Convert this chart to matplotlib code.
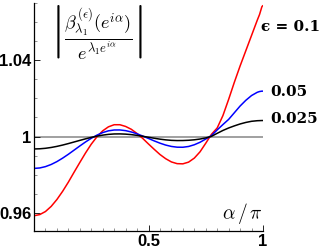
import numpy as np
import matplotlib
matplotlib.use("Agg")
import matplotlib.pyplot as plt
from matplotlib.ticker import MultipleLocator, FixedLocator

plt.rcParams['mathtext.fontset'] = 'cm'

alpha = [0.0, 0.025, 0.05, 0.075, 0.10, 0.125, 0.15, 0.175, 0.20, 0.225, 0.25, 0.275,
         0.30, 0.325, 0.35, 0.375, 0.40, 0.425, 0.45, 0.475, 0.50, 0.525, 0.55, 0.575,
         0.60, 0.625, 0.65, 0.675, 0.70, 0.725, 0.75, 0.775, 0.80, 0.825, 0.85, 0.875,
         0.90, 0.925, 0.95, 0.975, 0.985, 0.995, 1.0]

eps_01 = [0.9585, 0.9591, 0.9607, 0.9634, 0.9670, 0.9713, 0.9761, 0.9813, 0.9864, 0.9914,
          0.9960, 0.9999, 1.0030, 1.0051, 1.0062, 1.0062, 1.0053, 1.0038, 1.0016, 0.9990,
          0.9961, 0.9933, 0.9906, 0.9884, 0.9867, 0.9858, 0.9857, 0.9866, 0.9887, 0.9920,
          0.9965, 1.0012, 1.0045, 1.0110, 1.0195, 1.0285, 1.0370, 1.0450, 1.0530, 1.0610,
          1.0640, 1.0680, 1.0688]

eps_005 = [0.9833, 0.98354, 0.98424, 0.98537, 0.98687, 0.98869, 0.99071, 0.99288, 0.99506,
           0.99716, 0.99909, 1.00075, 1.00208, 1.00300, 1.00344, 1.00346, 1.00310, 1.00240,
           1.00143, 1.00026, 0.99899, 0.99772, 0.99654, 0.99554, 0.99482, 0.99443, 0.99440,
           0.99480, 0.99570, 0.99700, 0.99870, 1.00050, 1.00350, 1.00630, 1.00900, 1.01250,
           1.01600, 1.01900, 1.02150, 1.02320, 1.02360, 1.02380, 1.02380]

eps_0025 = [0.9935, 0.99359, 0.99385, 0.99428, 0.99485, 0.99554, 0.99632, 0.99715, 0.99799,
            0.99880, 0.99956, 1.00022, 1.00075, 1.00114, 1.00136, 1.00139, 1.00127, 1.00101,
            1.00062, 1.00015, 0.99963, 0.99911, 0.99864, 0.99827, 0.99801, 0.99790, 0.99792,
            0.99805, 0.99830, 0.99870, 0.99930, 1.00010, 1.00170, 1.00320, 1.00450, 1.00560,
            1.00660, 1.00740, 1.00800, 1.00830, 1.00835, 1.00840, 1.00840]

series = [(eps_01, 'red', '\u03f5 = 0.1', (-2, -22)),
          (eps_005, 'blue', '0.05', (7, -1)),
          (eps_0025, 'black', '0.025', (7, 2))]

ytick_major = [0.96, 1.0, 1.04]
ytick_labels = ['0.96', '1', '1.04']
xtick_major = [0.5, 1.0]
xtick_labels = ['0.5', '1']

fig = plt.figure(figsize=(3.27, 2.49), dpi=100)
ax = fig.add_axes([34/327, 1-231/249, (263-34)/327, (231-3)/249])

ax.axhline(1.0, color='#999999', lw=1.3, zorder=1)
for ys, c, lab, off in series:
    ax.plot(alpha, ys, color=c, lw=1.1, zorder=2, solid_capstyle='butt')
    ax.annotate(lab, xy=(alpha[-1], ys[-1]), xytext=(off[0], off[1]), textcoords='offset pixels',
                ha='left', va='center', fontsize=11, fontweight='bold',
                family=['DejaVu Serif'], annotation_clip=False)

ax.set_xlim(0, 1)
ax.set_ylim(0.9505, 1.070)
for s in ['top', 'right']:
    ax.spines[s].set_visible(False)
ax.spines['left'].set_linewidth(0.9)
ax.spines['bottom'].set_linewidth(0.9)

ax.xaxis.set_major_locator(FixedLocator(xtick_major))
ax.set_xticklabels(xtick_labels)
ax.xaxis.set_minor_locator(MultipleLocator(0.05))
ax.yaxis.set_major_locator(FixedLocator(ytick_major))
ax.set_yticklabels(ytick_labels)
ax.yaxis.set_minor_locator(MultipleLocator(0.01))
ax.tick_params(which='major', direction='in', length=4, width=0.6, pad=2)
ax.tick_params(which='minor', direction='in', length=2, width=0.5, color='#666666')
for lbl in ax.get_xticklabels() + ax.get_yticklabels():
    lbl.set_fontfamily('Liberation Sans')
    lbl.set_fontweight('bold')
    lbl.set_fontsize(12)

ax.text(1.0, 0.02, r'$\alpha\,/\,\pi$', transform=ax.transAxes, ha='right', va='bottom', fontsize=14)
ax.text(0.07, 0.998, r'$\left|\dfrac{\beta^{(\epsilon)}_{\lambda_1}(e^{i\alpha})}{e^{\lambda_1 e^{i\alpha}}}\right|$',
        transform=ax.transAxes, ha='left', va='top', fontsize=13)

fig.savefig('out.png', dpi=100)
